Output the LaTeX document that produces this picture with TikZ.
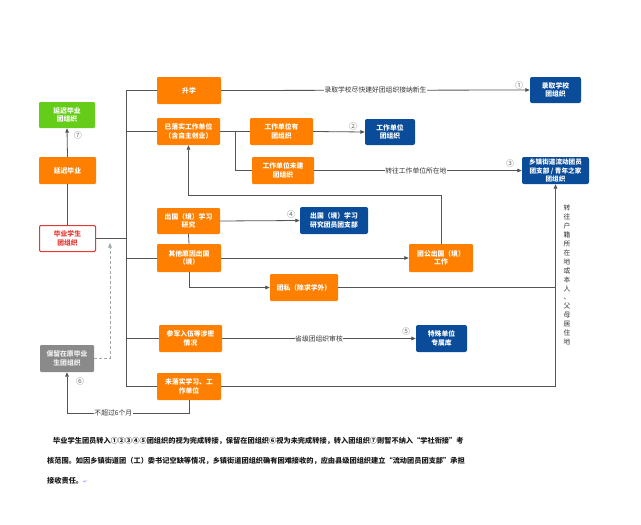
\documentclass[tikz,border=0pt]{standalone}
\usepackage{fontspec}
\setmainfont{Noto Sans CJK SC}
\newfontfamily\dejavu{DejaVu Sans}
\usetikzlibrary{arrows.meta}
\definecolor{orgc}{HTML}{FF8000}
\definecolor{bluc}{HTML}{0A4C9A}
\definecolor{grnc}{HTML}{66CC1A}
\definecolor{gryc}{HTML}{8A8A8A}
\definecolor{redc}{HTML}{E53935}
\definecolor{linec}{HTML}{555555}
\definecolor{txtc}{HTML}{333333}
\tikzset{
  base/.style={rounded corners=1.2pt, inner sep=0pt, align=center, font=\fontsize{6.8}{8.6}\selectfont\bfseries, text=white},
  org/.style={base, fill=orgc},
  blu/.style={base, fill=bluc, rounded corners=2pt},
  grn/.style={base, fill=grnc},
  gry/.style={base, fill=gryc, text=white!88!gray},
  redb/.style={base, fill=white, draw=redc, line width=1pt, text=redc},
  sz/.style 2 args={minimum width=#1pt, minimum height=#2pt},
  conn/.style={draw=linec, line width=0.8pt},
  arr/.style={conn, -{Triangle[length=4.5pt,width=3.6pt]}},
  lbl/.style={fill=white, inner sep=0.6pt, font=\fontsize{6.8}{8}\selectfont, text=txtc},
  num/.style={font=\fontsize{8}{8}\selectfont, text=black!55, inner sep=0pt},
  para/.style={anchor=west, inner sep=0pt, font=\fontsize{7.2}{8}\selectfont\bfseries, text=black!90}
}
\begin{document}
\begin{tikzpicture}[x=1pt,y=-1pt]
\path[fill=white] (0,0) rectangle (641,525);
\useasboundingbox (0,0) rectangle (641,525);

% left column
\node[grn, sz={56}{26}] (g) at (67,115) {延迟毕业\\团组织};
\node[org, sz={57}{27}] (dly) at (67.5,170.5) {延迟毕业};
\node[redb, sz={56}{26}] (red) at (67.5,238.5) {毕业学生\\团组织};
\node[gry, sz={54}{27}] (gr) at (67,358.5) {保留在原毕业\\生团组织};

% second column
\node[org, sz={64}{27}] (sx) at (189,90.5) {升学};
\node[org, sz={63}{27}] (yl) at (188.5,131.5) {已落实工作单位\\（含自主创业）};
\node[org, sz={63}{26}] (cg) at (188.5,221) {出国（境）学习\\研究};
\node[org, sz={64}{28}] (qt) at (189,258) {其他原因出国\\（境）};
\node[org, sz={63}{27}] (cj) at (190.5,338.5) {参军入伍等涉密\\情况};
\node[org, sz={64}{27}] (wl) at (189,386.5) {未落实学习、工\\作单位};

% third column
\node[org, sz={63}{27}] (wy) at (281.5,131.5) {工作单位有\\团组织};
\node[org, sz={62}{27}] (wn) at (283,170.5) {工作单位未建\\团组织};
\node[org, sz={68}{27}] (ts) at (304,287.5) {团私（除求学外）};
\node[org, sz={64}{28}] (tgc) at (441,258) {团公出国（境）\\工作};

% blue targets
\node[blu, sz={51}{26}] (lq) at (555.5,90) {录取学校\\团组织};
\node[blu, sz={50}{26}] (wt) at (390,132) {工作单位\\团组织};
\node[blu, sz={67}{27}, font=\fontsize{6.6}{8.2}\selectfont\bfseries] (xz) at (555.5,170.5) {乡镇街道流动团员\\团支部 / 青年之家\\团组织};
\node[blu, sz={68}{27}] (cgt) at (334,220.5) {出国（境）学习\\研究团员团支部};
\node[blu, sz={51}{27}] (ts2) at (441.5,338.5) {特殊单位\\专属库};

% helper coordinates
\coordinate (tk) at (126,0);
\coordinate (bj) at (235,131.5);
\coordinate (up) at (0,195);
\coordinate (vx) at (556,0);
\coordinate (bot) at (0,413);
\coordinate (dt) at (110,243);

% left connectors
\draw[conn] (red.north) -- (dly.south);
\draw[arr] (dly.north) -- (g.south);
\node[num] at (78,135) {⑦};

% trunk
\draw[conn] (red.east) -- (red.east -| tk);
\draw[conn] (sx.west -| tk) -- (wl.west -| tk);
\draw[conn] (sx.west -| tk) -- (sx.west);
\draw[conn] (yl.west -| tk) -- (yl.west);
\draw[conn] (qt.west -| tk) -- (qt.west);
\draw[conn] (cj.west -| tk) -- (cj.west);
\draw[conn] (wl.west -| tk) -- (wl.west);

% branches
\draw[arr] (sx.east) -- node[lbl, pos=0.5] {录取学校尽快建好团组织接纳新生} (lq.west);
\node[num] at (519,85) {①};

\draw[conn] (yl.east) -- (wy.west);
\draw[conn] (bj) |- (wn.west);
\draw[arr] (wy.east) -- (wt.west);
\node[num] at (353,126) {②};

\draw[arr] (wn.east) -- node[lbl, pos=0.49] {转往工作单位所在地} (xz.west);
\node[num] at (510,163) {③};

\draw[arr] (tgc.north) |- (yl.south |- up) -- (yl.south);

\draw[conn] (qt.north) -- (cg.south);
\draw[arr] (cg.east) -- (cgt.west);
\node[num] at (291,214) {④};
\draw[arr] (qt.east) -- (tgc.west);
\draw[arr] (qt.south) |- (ts.west);
\draw[conn] (ts.east) -- (ts.east -| vx);

\draw[arr] (cj.east) -- node[lbl, pos=0.5] {省级团组织审核} (ts2.west);
\node[num] at (406,331) {⑤};

\draw[arr] (wl.east) -| (xz.south);
\node[inner sep=0pt, align=center, font=\fontsize{6.8}{8.9}\selectfont, text=txtc] (vt) at (567,275)
  {转\\往\\户\\籍\\所\\在\\地\\或\\本\\人\\、\\父\\母\\居\\住\\地};

\draw[arr] (wl.south) |- node[lbl, pos=0.81] {不超过6个月} (gr.south |- bot) -- (gr.south);
\node[num] at (80,381) {⑥};

\draw[draw=gray!70, line width=0.8pt, dash pattern=on 3pt off 2pt, -{Triangle[length=4.5pt,width=3.6pt]}] (gr.east) -| (dt);

% paragraph
\node[para] (p1) at (53,441) {毕业学生团员转入①②③④⑤团组织的视为完成转接，保留在团组织⑥视为未完成转接，转入团组织⑦则暂不纳入“学社衔接”考};
\node[para] (p2) at (47,461) {核范围。如因乡镇街道团（工）委书记空缺等情况，乡镇街道团组织确有困难接收的，应由县级团组织建立“流动团员团支部”承担};
\node[para] (p3) at (47,481) {接收责任。{\dejavu\mdseries\fontsize{5}{6}\selectfont\color{blue!55}↵}};
\end{tikzpicture}
\end{document}
